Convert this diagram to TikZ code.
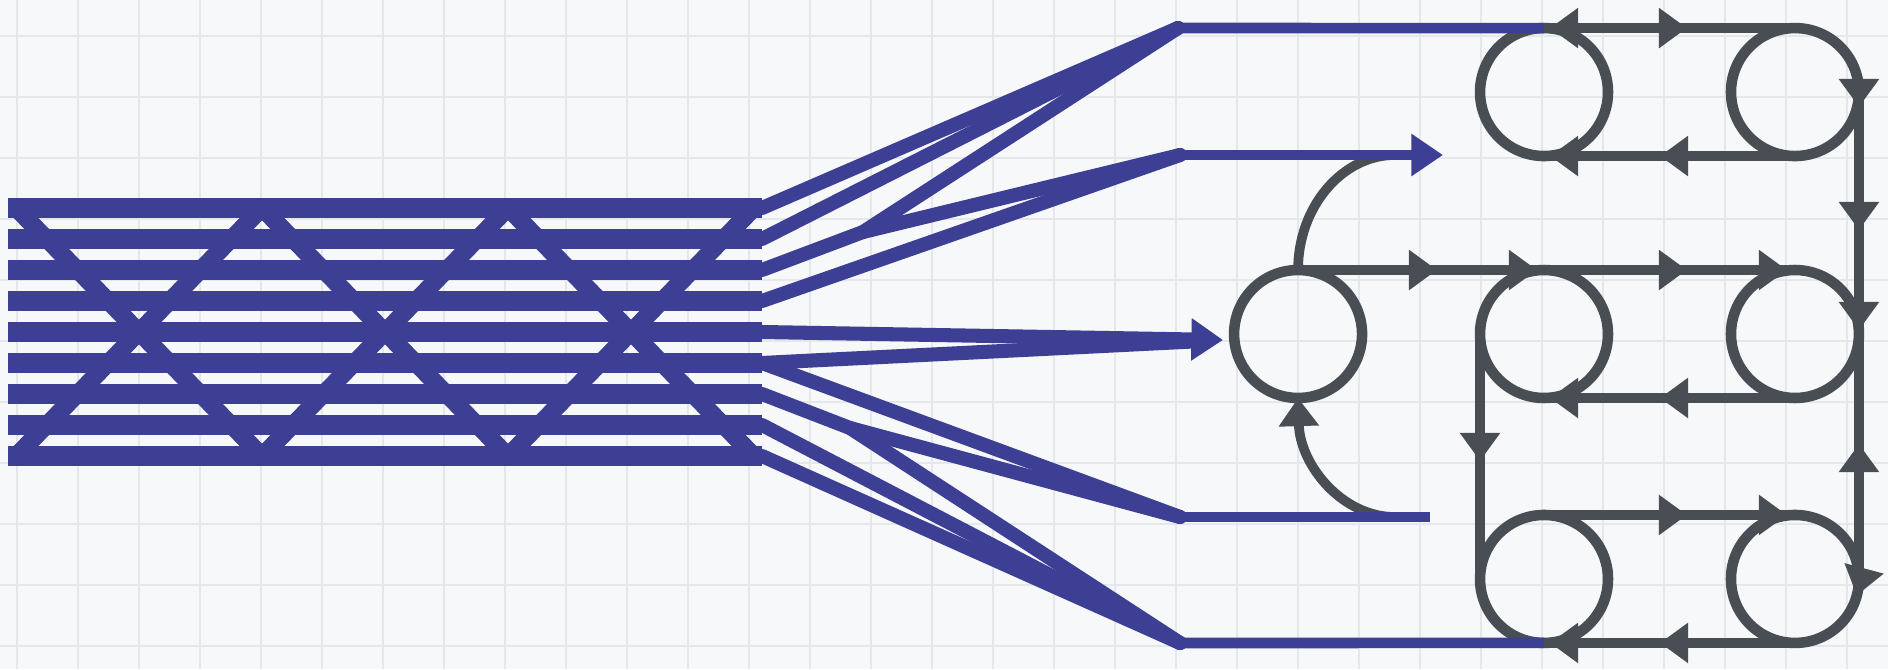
\documentclass[tikz,border=0pt]{standalone}
\usepackage{tikz}
\usetikzlibrary{positioning,arrows.meta,decorations.markings}
\definecolor{ink}{RGB}{60,63,148}
\definecolor{slate}{RGB}{72,78,84}
\definecolor{paper}{RGB}{247,248,249}
\definecolor{gridc}{RGB}{229,232,235}
\tikzset{cnode/.style={circle,draw=slate,line width=6pt,inner sep=0pt,outer sep=0pt,minimum size=2.56cm},
	 rowline/.style={draw=ink,line width=11pt},
	 diagline/.style={draw=ink,line width=10pt},
	 fanline/.style={draw=ink,line width=8pt,line cap=round,line join=round},
	 feed/.style={draw=ink,line width=6pt},
	 wire/.style={draw=slate,line width=5.5pt},
	 btip/.tip={Triangle[length=18pt,width=23pt]},
	 gtip/.tip={Triangle[length=16pt,width=22pt]},
	 arrs/.style={postaction={decorate},decoration={markings,#1}},
	 node distance = 2.3cm and 2.46cm
	 }

\begin{document}
\begin{tikzpicture}[x=0.02cm,y=-0.02cm] % bundle feeding a ring network
        \useasboundingbox (0,0) rectangle (1888,669);
        \fill[paper] (0,0) rectangle (1888,669);
        \foreach \gx in {17,78,...,1888} \draw[gridc,line width=1pt] (\gx,0) -- (\gx,669);
        \foreach \gy in {36,97,...,669} \draw[gridc,line width=1pt] (0,\gy) -- (1888,\gy);
        % rings
        \node[cnode] (c21) at (1544,334) {};
        \node[cnode] (c22) [right=of c21] {};
        \node[cnode] (c11) [above=2.28cm of c21] {};
        \node[cnode] (c12) [right=of c11] {};
        \node[cnode] (c31) [below=2.34cm of c21] {};
        \node[cnode] (c32) [right=of c31] {};
        \node[cnode] (c20) [left=2.36cm of c21] {};
        % ends of the fan
        \coordinate (t1) at (1178,28);
        \coordinate (t2) at (1180,155);
        \coordinate (t4) at (1180,517);
        \coordinate (t5) at (1180,643);
        \coordinate (sp1) at (863,232);
        \coordinate (sp2) at (850,428);
        \coordinate (mtip) at (1223,340);
        \coordinate (t2tip) at (1443,155);
        \coordinate (t2m) at (1395,155);
        \coordinate (t4m) at (1395,517);
        \coordinate (t4e) at (1430,517);
        \foreach \i in {0,...,8} {
          \coordinate (l\i) at (8,{208+31*\i});
          \coordinate (r\i) at (762,{208+31*\i});
        }
        % bundle
        \foreach \i in {0,...,8} \draw[rowline] (l\i) -- (r\i);
        \foreach \s in {16,262,508} {
          \draw[diagline] (\s,208) -- ({\s+246},456);
          \draw[diagline] (\s,456) -- ({\s+246},208);
        }
        % fan
        \draw[fanline] (r0) -- (t1);
        \draw[fanline] (r1) -- (t1);
        \draw[fanline] (r2) -- (sp1) -- (t1);
        \draw[fanline] (sp1) -- (t2);
        \draw[fanline] (r3) -- (t2);
        \draw[fanline,-{btip}] (r4) -- (mtip);
        \draw[fanline,shorten >=18pt] (r5) -- (mtip);
        \draw[fanline] (r5) -- (t4);
        \draw[fanline] (r6) -- (sp2) -- (t5);
        \draw[fanline] (sp2) -- (t4);
        \draw[fanline] (r7) -- (t5);
        \draw[fanline] (r8) -- (t5);
        % loops back to the middle ring
        \draw[wire] (c20.north) .. controls (1298,207) and (1342,155) .. (t2m);
        \draw[wire,-{gtip}] (t4m) .. controls (1342,517) and (1300,465) .. (c20.south);
        \draw[feed] (t1) -- (c11.north);
        \draw[feed,-{btip}] (t2) -- (t2tip);
        \draw[feed] (t4) -- (t4e);
        \draw[feed] (t5) -- (c31.south);
        % ring links
        \draw[wire,arrs={mark=at position 0.12cm with {\arrowreversed{gtip}},mark=at position 2.86cm with {\arrow{gtip}}}] (c11.north) -- (c12.north);
        \draw[wire,arrs={mark=at position 2.7cm with {\arrow{gtip}},mark=at position 4.9cm with {\arrow{gtip}}}] (c12.south) -- (c11.south);
        \draw[wire,arrs={mark=at position 2.78cm with {\arrow{gtip}},mark=at position 4.78cm with {\arrow{gtip}},mark=at position 7.78cm with {\arrow{gtip}},mark=at position 9.78cm with {\arrow{gtip}}}] (c20.north) -- (c22.north);
        \draw[wire,arrs={mark=at position 2.7cm with {\arrow{gtip}},mark=at position 4.9cm with {\arrow{gtip}}}] (c22.south) -- (c21.south);
        \draw[wire,arrs={mark=at position 2.86cm with {\arrow{gtip}},mark=at position 4.86cm with {\arrow{gtip}}}] (c31.north) -- (c32.north);
        \draw[wire,arrs={mark=at position 2.7cm with {\arrow{gtip}},mark=at position 4.9cm with {\arrow{gtip}}}] (c32.south) -- (c31.south);
        \draw[wire,arrs={mark=at position 2.54cm with {\arrow{gtip}}}] (c21.west) -- (c31.west);
        \draw[wire,arrs={mark=at position 0.3cm with {\arrow{gtip}},mark=at position 2.76cm with {\arrow{gtip}},mark=at position 4.76cm with {\arrow{gtip}}}] (c12.east) -- (c22.east);
        \draw[wire,-{gtip},arrs={mark=at position 2.2cm with {\arrowreversed{gtip}}}] (c22.east) -- (c32.east) arc[start angle=0,end angle=-15,radius=1.28cm];
\end{tikzpicture}
\end{document}
